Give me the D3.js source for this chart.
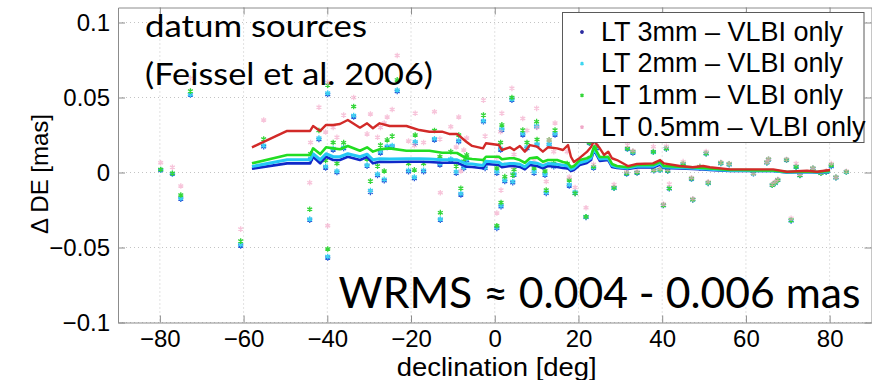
<!DOCTYPE html>
<html>
<head>
<meta charset="utf-8">
<script src="https://cdn.jsdelivr.net/npm/d3@7"></script>
<style>
  html, body { margin: 0; padding: 0; background: #fff; }
  svg { display: block; }
</style>
</head>
<body>
<svg id="chart" width="872" height="380"></svg>
<script>
// Declination of each datum source [deg]
const decl = [
  -79.8, -77.0, -75.0, -72.7, -60.7, -55.2, -44.2, -44.0, -42.0, -40.4,
  -39.9, -39.9, -37.7, -36.1, -38.6, -33.7, -30.5, -29.7, -28.0, -27.3,
  -26.4, -25.7, -24.5, -23.3, -20.6, -19.0, -19.2, -17.0, -14.4, -13.0,
  -13.1, -10.5, -8.6, -9.2, -8.1, -7.4, -6.7, -2.7, -2.3, 0.5,
  0.5, 1.5, 1.4, 1.7, 2.4, 4.1, 4.3, 4.6, 6.7, 7.7,
  9.4, 10.0, 10.1, 12.0, 12.3, 13.0, 14.4, 14.1, 17.3, 17.8,
  19.2, 21.8, 22.6, 23.6, 24.3, 28.5, 31.7, 33.0, 31.5, 34.0,
  37.9, 38.0, 39.5, 40.3, 41.0, 41.7, 41.3, 45.0, 47.0, 47.3,
  50.5, 51.0, 49.0, 54.0, 56.0, 61.8, 65.4, 65.0, 66.3, 67.0,
  67.6, 69.7, 70.8, 72.0, 72.9, 76.0, 77.9, 79.2, 80.4, 81.5,
  84.0
];

// Δ DE [mas] per source, one array per solution
const de3mm = [
  0.0015, -0.0010, -0.0177, 0.0517, -0.0490, 0.0172, -0.0317, 0.0088, 0.0220, 0.0030,
  0.0520, -0.0570, 0.0000, 0.0160, 0.0150, 0.0370, 0.0043, -0.0132, -0.0020, 0.0130,
  -0.0055, 0.0168, 0.0170, 0.0540, 0.0005, 0.0195, -0.0040, 0.0005, 0.0217, -0.0317,
  0.0050, 0.0083, 0.0205, -0.0005, -0.0150, 0.0028, 0.0080, 0.0339, 0.0028, -0.0005,
  -0.0372, -0.0228, 0.0150, 0.0283, -0.0060, 0.0483, -0.0068, -0.0017, 0.0250, 0.0160,
  -0.0005, 0.0305, 0.0183, -0.0017, -0.0139, 0.0185, 0.0250, 0.0039, 0.0039, -0.0090,
  -0.0139, -0.0299, 0.0195, 0.0030, 0.0160, -0.0105, 0.0155, 0.0130, -0.0010, -0.0003,
  0.0135, 0.0012, 0.0015, -0.0220, 0.0158, -0.0108, 0.0010, 0.0050, -0.0045, -0.0182,
  0.0125, -0.0072, 0.0030, 0.0060, 0.0052, -0.0008, 0.0085, 0.0065, -0.0085, -0.0072,
  -0.0052, 0.0082, -0.0322, 0.0036, -0.0020, 0.0025, -0.0005, 0.0003, 0.0040, -0.0035,
  0.0003
];
const de2mm = [
  0.0018, -0.0008, -0.0170, 0.0520, -0.0480, 0.0180, -0.0310, 0.0095, 0.0230, 0.0040,
  0.0530, -0.0560, 0.0010, 0.0168, 0.0160, 0.0380, 0.0050, -0.0120, -0.0010, 0.0140,
  -0.0045, 0.0175, 0.0180, 0.0550, 0.0015, 0.0205, -0.0030, 0.0015, 0.0225, -0.0310,
  0.0060, 0.0090, 0.0215, 0.0005, -0.0140, 0.0035, 0.0090, 0.0345, 0.0035, 0.0005,
  -0.0365, -0.0220, 0.0160, 0.0290, -0.0050, 0.0490, -0.0060, -0.0010, 0.0260, 0.0170,
  0.0005, 0.0310, 0.0190, -0.0010, -0.0130, 0.0190, 0.0260, 0.0045, 0.0045, -0.0080,
  -0.0130, -0.0295, 0.0200, 0.0035, 0.0170, -0.0103, 0.0158, 0.0135, -0.0008, 0.0000,
  0.0137, 0.0015, 0.0017, -0.0218, 0.0160, -0.0106, 0.0012, 0.0055, -0.0042, -0.0180,
  0.0127, -0.0070, 0.0035, 0.0062, 0.0055, -0.0006, 0.0086, 0.0066, -0.0084, -0.0070,
  -0.0050, 0.0085, -0.0320, 0.0038, -0.0018, 0.0027, -0.0004, 0.0004, 0.0045, -0.0033,
  0.0004
];
const de1mm = [
  0.0020, -0.0005, -0.0150, 0.0543, -0.0457, 0.0223, -0.0245, 0.0125, 0.0280, 0.0080,
  0.0583, -0.0510, 0.0060, 0.0199, 0.0200, 0.0440, 0.0090, -0.0057, 0.0043, 0.0183,
  0.0010, 0.0217, 0.0243, 0.0617, 0.0060, 0.0250, 0.0017, 0.0060, 0.0280, -0.0268,
  0.0105, 0.0139, 0.0250, 0.0043, -0.0105, 0.0075, 0.0117, 0.0383, 0.0070, 0.0030,
  -0.0355, -0.0200, 0.0200, 0.0317, -0.0028, 0.0500, -0.0017, 0.0020, 0.0283, 0.0200,
  0.0030, 0.0339, 0.0220, 0.0010, -0.0117, 0.0217, 0.0283, 0.0060, 0.0060, -0.0050,
  -0.0139, -0.0295, 0.0200, 0.0039, 0.0175, -0.0101, 0.0160, 0.0139, -0.0005, 0.0000,
  0.0139, 0.0017, 0.0020, -0.0217, 0.0160, -0.0105, 0.0013, 0.0060, -0.0040, -0.0180,
  0.0128, -0.0068, 0.0039, 0.0065, 0.0058, -0.0005, 0.0088, 0.0068, -0.0083, -0.0068,
  -0.0050, 0.0085, -0.0317, 0.0039, -0.0017, 0.0028, -0.0003, 0.0005, 0.0050, -0.0032,
  0.0005
];
const de05mm = [
  0.0065, 0.0035, -0.0090, 0.0628, -0.0377, 0.0350, -0.0068, 0.0200, 0.0435, 0.0270,
  0.0600, -0.0355, 0.0235, 0.0383, 0.0300, 0.0500, 0.0257, 0.0390, 0.0235, 0.0300,
  0.0330, 0.0370, 0.0420, 0.0780, 0.0210, 0.0395, 0.0180, 0.0200, 0.0405, -0.0135,
  0.0223, 0.0305, 0.0370, 0.0170, 0.0010, 0.0150, 0.0230, 0.0483, 0.0243, 0.0100,
  -0.0270, -0.0117, 0.0272, 0.0395, 0.0050, 0.0561, 0.0040, 0.0120, 0.0360, 0.0280,
  0.0080, 0.0428, 0.0300, 0.0050, -0.0060, 0.0217, 0.0330, 0.0139, 0.0139, -0.0030,
  -0.0100, -0.0235, 0.0217, 0.0055, 0.0195, -0.0080, 0.0183, 0.0145, 0.0005, 0.0010,
  0.0172, 0.0020, 0.0025, -0.0210, 0.0175, -0.0077, 0.0020, 0.0072, -0.0035, -0.0175,
  0.0140, -0.0062, 0.0039, 0.0068, 0.0060, -0.0003, 0.0090, 0.0070, -0.0078, -0.0062,
  -0.0045, 0.0088, -0.0305, 0.0060, -0.0010, 0.0030, 0.0000, 0.0010, 0.0060, -0.0030,
  0.0008
];

// Running mean of Δ DE along declination, per solution
const meanDecl = [
  -58.0, -49.6, -44.1, -43.4, -41.7, -40.3, -38.6, -37.0, -35.1, -32.2,
  -30.5, -29.1, -27.5, -25.1, -21.1, -18.0, -15.6, -12.6, -10.9, -9.0,
  -6.8, -5.4, -2.8, -2.1, 1.0, 1.7, 3.6, 4.6, 6.0, 7.2,
  8.4, 10.1, 11.5, 12.7, 14.9, 16.3, 17.5, 18.2, 18.9, 20.3,
  22.0, 23.0, 23.7, 25.1, 26.1, 27.1, 28.0, 29.2, 31.8, 34.0,
  37.8, 39.5, 40.4, 44.2, 47.3, 49.8, 51.4, 56.2, 58.6, 66.5,
  69.8, 74.6, 77.0, 80.1
];
const mean3mm = [
  0.0025, 0.0061, 0.0061, 0.0105, 0.0061, 0.0105, 0.0083, 0.0083, 0.0105, 0.0083,
  0.0103, 0.0061, 0.0072, 0.0070, 0.0072, 0.0072, 0.0070, 0.0065, 0.0065, 0.0065,
  0.0039, 0.0037, 0.0028, 0.0057, 0.0050, 0.0035, 0.0043, 0.0043, 0.0037, 0.0021,
  0.0050, 0.0043, 0.0028, 0.0043, 0.0037, 0.0030, 0.0027, 0.0010, 0.0017, 0.0050,
  0.0063, 0.0083, 0.0150, 0.0077, 0.0080, 0.0083, 0.0037, 0.0030, 0.0023, 0.0033,
  0.0033, 0.0053, 0.0030, 0.0027, 0.0023, 0.0020, 0.0017, 0.0010, 0.0010, 0.0010,
  0.0000, 0.0003, 0.0000, 0.0003
];
const mean2mm = [
  0.0040, 0.0085, 0.0085, 0.0125, 0.0085, 0.0125, 0.0105, 0.0105, 0.0125, 0.0105,
  0.0122, 0.0085, 0.0092, 0.0090, 0.0092, 0.0092, 0.0090, 0.0085, 0.0085, 0.0085,
  0.0058, 0.0056, 0.0047, 0.0075, 0.0068, 0.0053, 0.0060, 0.0060, 0.0055, 0.0038,
  0.0068, 0.0062, 0.0045, 0.0060, 0.0055, 0.0048, 0.0044, 0.0022, 0.0030, 0.0065,
  0.0078, 0.0097, 0.0160, 0.0090, 0.0092, 0.0094, 0.0047, 0.0037, 0.0029, 0.0041,
  0.0041, 0.0062, 0.0036, 0.0033, 0.0029, 0.0025, 0.0022, 0.0013, 0.0013, 0.0011,
  0.0001, 0.0005, 0.0001, 0.0007
];
const mean1mm = [
  0.0061, 0.0117, 0.0117, 0.0161, 0.0123, 0.0168, 0.0161, 0.0155, 0.0177, 0.0145,
  0.0168, 0.0139, 0.0155, 0.0161, 0.0145, 0.0145, 0.0145, 0.0132, 0.0132, 0.0130,
  0.0095, 0.0090, 0.0083, 0.0105, 0.0105, 0.0088, 0.0095, 0.0095, 0.0083, 0.0065,
  0.0095, 0.0101, 0.0072, 0.0083, 0.0083, 0.0070, 0.0061, 0.0035, 0.0043, 0.0083,
  0.0095, 0.0110, 0.0172, 0.0103, 0.0103, 0.0105, 0.0057, 0.0043, 0.0035, 0.0050,
  0.0050, 0.0072, 0.0043, 0.0039, 0.0035, 0.0030, 0.0027, 0.0017, 0.0017, 0.0013,
  0.0003, 0.0007, 0.0003, 0.0010
];
const mean05mm = [
  0.0168, 0.0277, 0.0277, 0.0310, 0.0277, 0.0317, 0.0317, 0.0323, 0.0350, 0.0299,
  0.0328, 0.0295, 0.0328, 0.0310, 0.0310, 0.0283, 0.0272, 0.0272, 0.0257, 0.0257,
  0.0205, 0.0177, 0.0161, 0.0195, 0.0183, 0.0150, 0.0168, 0.0150, 0.0177, 0.0139,
  0.0183, 0.0172, 0.0139, 0.0168, 0.0161, 0.0150, 0.0183, 0.0105, 0.0070, 0.0097,
  0.0137, 0.0170, 0.0210, 0.0161, 0.0117, 0.0139, 0.0095, 0.0083, 0.0043, 0.0057,
  0.0061, 0.0083, 0.0061, 0.0043, 0.0035, 0.0043, 0.0035, 0.0021, 0.0021, 0.0021,
  0.0005, 0.0012, 0.0005, 0.0017
];

const legendLabels = [
  "LT 3mm \u2013 VLBI only",
  "LT 2mm \u2013 VLBI only",
  "LT 1mm \u2013 VLBI only",
  "LT 0.5mm \u2013 VLBI only"
];
const xTicks = [-80, -60, -40, -20, 0, 20, 40, 60, 80];
const yTicks = [-0.1, -0.05, 0, 0.05, 0.1];

const series = [
  { values: de3mm,  mean: mean3mm,  dot: "#2a5ad8", line: "#1028c8", key: "#2b2ba0" },
  { values: de2mm,  mean: mean2mm,  dot: "#3cd0f2", line: "#25c8f5", key: "#3cd6f0" },
  { values: de1mm,  mean: mean1mm,  dot: "#35d63a", line: "#22dd22", key: "#35d63a" },
  { values: de05mm, mean: mean05mm, dot: "#f3a4c6", line: "#d22a28", key: "#f0a8c8" }
];

const svg = d3.select("#chart");
const plotL = 118, plotR = 871.5, plotT = 7.5, plotB = 322.5;

const x = d3.scaleLinear().domain([-90, 90]).range([plotL, plotR]);
const y = d3.scaleLinear().domain([-0.1, 0.11]).range([plotB, plotT]);

const axisFont = "'Liberation Sans', Arial, Helvetica, sans-serif";
const calloutFont = "Lato, 'Open Sans', sans-serif";

// dotted grid
const grid = svg.append("g").attr("stroke", "#c4c4c4").attr("stroke-width", 1)
  .attr("stroke-dasharray", "1,3");
grid.selectAll("line.gx").data(xTicks).join("line").attr("class", "gx")
  .attr("x1", d => x(d)).attr("x2", d => x(d))
  .attr("y1", plotT).attr("y2", plotB);
grid.selectAll("line.gy").data(yTicks).join("line").attr("class", "gy")
  .attr("x1", plotL).attr("x2", plotR)
  .attr("y1", d => y(d)).attr("y2", d => y(d));

// scatter: one asterisk per source and solution (3mm drawn first, 0.5mm last)
const star = d3.symbol().type(d3.symbolAsterisk).size(22);
const pointLayer = svg.append("g");
series.forEach((s, i) => {
  pointLayer.append("g")
    .attr("fill", "none")
    .attr("stroke", s.dot)
    .attr("stroke-width", 1.3)
    .attr("stroke-opacity", i === 3 ? 0.65 : 1)
    .selectAll("path").data(decl.map((d, k) => [d, s.values[k]])).join("path")
    .attr("transform", d => `translate(${x(d[0])},${y(d[1])})`)
    .attr("d", star);
});

// running means
const line = d3.line().x(d => x(d[0])).y(d => y(d[1]));
const widths = [2.6, 3.0, 2.6, 2.4];
series.forEach((s, i) => {
  svg.append("path")
    .datum(meanDecl.map((d, k) => [d, s.mean[k]]))
    .attr("fill", "none")
    .attr("stroke", s.line)
    .attr("stroke-width", widths[i])
    .attr("stroke-linejoin", "round")
    .attr("d", line);
});

// axes with inward ticks on all four sides
const tickLen = 7;
const fmtY = d3.format("~g");
const axColor = "#8c8c8c";

const gx = svg.append("g").attr("transform", `translate(0,${plotB})`)
  .call(d3.axisBottom(x).tickValues(xTicks).tickSizeInner(-tickLen).tickSizeOuter(0).tickPadding(7));
const gy = svg.append("g").attr("transform", `translate(${plotL},0)`)
  .call(d3.axisLeft(y).tickValues(yTicks).tickFormat(fmtY).tickSizeInner(-tickLen).tickSizeOuter(0).tickPadding(8));
const gt = svg.append("g").attr("transform", `translate(0,${plotT})`)
  .call(d3.axisTop(x).tickValues(xTicks).tickSizeInner(-tickLen).tickSizeOuter(0).tickFormat(""));
const gr = svg.append("g").attr("transform", `translate(${plotR},0)`)
  .call(d3.axisRight(y).tickValues(yTicks).tickSizeInner(-tickLen).tickSizeOuter(0).tickFormat(""));

[gx, gy, gt, gr].forEach(g => {
  g.select(".domain").attr("stroke", axColor);
  g.selectAll(".tick line").attr("stroke", axColor);
  g.selectAll("text").attr("fill", "#000")
    .style("font-family", axisFont).style("font-size", "24px");
});

// axis titles
svg.append("text")
  .attr("x", (plotL + plotR) / 2 + 2).attr("y", 376)
  .attr("text-anchor", "middle")
  .attr("textLength", 200).attr("lengthAdjust", "spacingAndGlyphs")
  .style("font-family", axisFont).style("font-size", "25px")
  .text("declination [deg]");
svg.append("text")
  .attr("transform", "translate(48,174) rotate(-90)")
  .attr("text-anchor", "middle")
  .style("font-family", axisFont).style("font-size", "24px")
  .text("\u0394 DE [mas]");

// callouts
svg.append("text").attr("x", 145).attr("y", 37)
  .attr("textLength", 222).attr("lengthAdjust", "spacingAndGlyphs")
  .style("font-family", calloutFont).style("font-size", "30px")
  .text("datum sources");
svg.append("text").attr("x", 145).attr("y", 85)
  .attr("textLength", 288).attr("lengthAdjust", "spacingAndGlyphs")
  .style("font-family", calloutFont).style("font-size", "30px")
  .text("(Feissel et al. 2006)");
svg.append("text").attr("x", 338.5).attr("y", 308)
  .attr("textLength", 522).attr("lengthAdjust", "spacingAndGlyphs")
  .style("font-family", calloutFont).style("font-size", "43px")
  .text("WRMS \u2248 0.004 - 0.006 mas");

// legend
const lg = svg.append("g");
lg.append("rect")
  .attr("x", 562.5).attr("y", 12.5).attr("width", 301.5).attr("height", 130)
  .attr("fill", "#fff").attr("stroke", "#5a5a5a").attr("stroke-width", 1);
const keyStar = d3.symbol().type(d3.symbolAsterisk).size(10);
legendLabels.forEach((lab, i) => {
  const cy = 32 + i * 31.7;
  lg.append("path")
    .attr("transform", `translate(582,${cy})`)
    .attr("d", keyStar)
    .attr("fill", "none").attr("stroke", series[i].key).attr("stroke-width", 1.4);
  lg.append("text")
    .attr("x", 601).attr("y", cy + 8.5)
    .style("font-family", axisFont).style("font-size", "27px")
    .text(lab);
});
</script>
</body>
</html>
